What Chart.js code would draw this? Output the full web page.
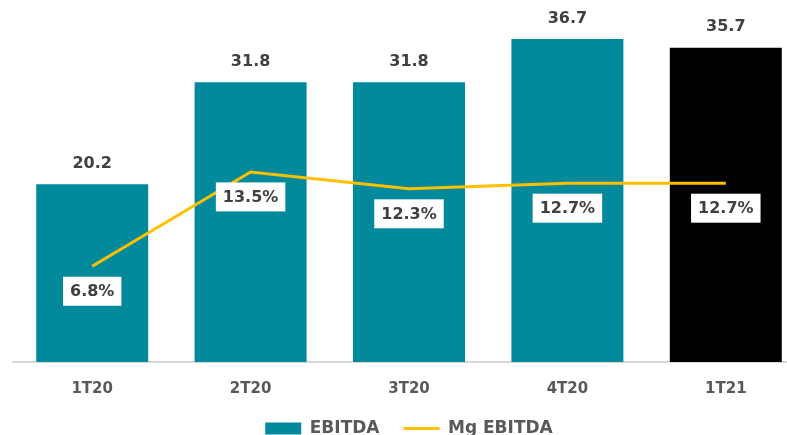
<!DOCTYPE html>
<html>
<head>
<meta charset="utf-8">
<script src="https://cdn.jsdelivr.net/npm/chart.js@4.4.1/dist/chart.umd.min.js"></script>
<style>
  html, body { margin: 0; padding: 0; background: #ffffff; overflow: hidden; }
  #wrap { position: relative; width: 787px; height: 435px; overflow: hidden; }
  #box { position: absolute; left: 0; top: 0; width: 822px; height: 447px; }
</style>
</head>
<body>
<div id="wrap"><div id="box"><canvas id="c"></canvas></div></div>
<script>
const categories = ['1T20', '2T20', '3T20', '4T20', '1T21'];
const ebitda = [20.2, 31.8, 31.8, 36.7, 35.7];
const mgEbitda = [6.8, 13.5, 12.3, 12.7, 12.7];
const seriesNames = ['EBITDA', 'Mg EBITDA'];

const TEAL = '#028A9C';
const GOLD = '#FFC000';
const FONT = "'DejaVu Sans', sans-serif";

const labelPlugin = {
  id: 'valueLabels',
  afterDatasetsDraw(chart) {
    const ctx = chart.ctx;
    ctx.save();
    ctx.font = 'bold 16px ' + FONT;
    ctx.textAlign = 'center';
    ctx.textBaseline = 'middle';
    const barMeta = chart.getDatasetMeta(0);
    barMeta.data.forEach((el, i) => {
      ctx.fillStyle = '#404040';
      ctx.fillText(ebitda[i].toFixed(1), el.x, el.y - 20.5);
    });
    const lineMeta = chart.getDatasetMeta(1);
    lineMeta.data.forEach((el, i) => {
      const txt = mgEbitda[i].toFixed(1) + '%';
      const w = ctx.measureText(txt).width + 14;
      const h = 29;
      const cy = el.y + 25;
      ctx.fillStyle = '#ffffff';
      ctx.fillRect(el.x - w / 2, cy - h / 2, w, h);
      ctx.fillStyle = '#404040';
      ctx.fillText(txt, el.x, cy + 1);
    });
    ctx.restore();
  }
};

new Chart(document.getElementById('c'), {
  data: {
    labels: categories,
    datasets: [
      {
        type: 'bar',
        label: seriesNames[0],
        data: ebitda,
        backgroundColor: [TEAL, TEAL, TEAL, TEAL, '#000000'],
        yAxisID: 'y',
        barPercentage: 0.707,
        categoryPercentage: 1,
        order: 2
      },
      {
        type: 'line',
        label: seriesNames[1],
        data: mgEbitda,
        borderColor: GOLD,
        backgroundColor: GOLD,
        borderWidth: 3,
        pointRadius: 0,
        tension: 0,
        yAxisID: 'y1',
        order: 1
      }
    ]
  },
  options: {
    responsive: true,
    maintainAspectRatio: false,
    animation: false,
    layout: { padding: { left: 13, right: 17, top: 10, bottom: 0 } },
    scales: {
      x: {
        grid: { display: false, drawTicks: false, tickLength: 0 },
        border: { display: true, color: '#D9D9D9', width: 2 },
        ticks: { color: '#595959', font: { family: FONT, size: 15, weight: 'bold', lineHeight: 1.2 }, padding: 18 },
        afterFit(scale) { scale.height = 34; }
      },
      y: { display: false, min: 0, max: 40 },
      y1: { display: false, min: 0, max: 25, position: 'right' }
    },
    plugins: {
      tooltip: { enabled: false },
      legend: {
        position: 'bottom',
        labels: {
          usePointStyle: true,
          pointStyleWidth: 36,
          boxHeight: 12,
          padding: 24,
          color: '#595959',
          font: { family: FONT, size: 17, weight: 'bold', lineHeight: 1 },
          generateLabels(chart) {
            return [
              { text: seriesNames[0], pointStyle: 'rect', fillStyle: TEAL, strokeStyle: TEAL, lineWidth: 0, fontColor: '#595959', datasetIndex: 0, hidden: false },
              { text: seriesNames[1], pointStyle: 'line', fillStyle: GOLD, strokeStyle: GOLD, lineWidth: 3, fontColor: '#595959', datasetIndex: 1, hidden: false }
            ];
          }
        }
      }
    }
  },
  plugins: [labelPlugin]
});
</script>
</body>
</html>
